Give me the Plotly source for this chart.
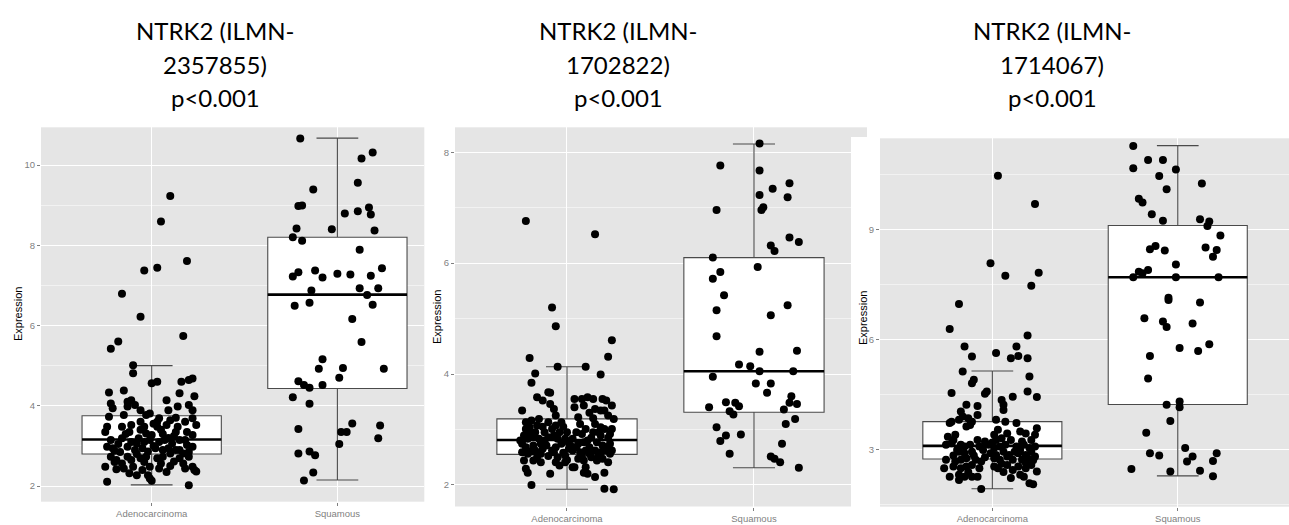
import plotly.graph_objects as go

W, H = 1289, 525
CATS = ["Adenocarcinoma", "Squamous"]
TITLES = [
    ["NTRK2 (ILMN-", "2357855)", "p<0.001"],
    ["NTRK2 (ILMN-", "1702822)", "p<0.001"],
    ["NTRK2 (ILMN-", "1714067)", "p<0.001"],
]

# ---------------- Panel 1 (ILMN-2357855) ----------------
P1_ADENO = [
    (0.10, 9.23), (0.05, 8.59), (0.19, 7.61), (0.03, 7.44), (-0.04, 7.37), (-0.16, 6.79), (-0.06, 6.22),
    (0.17, 5.74), (-0.18, 5.60), (-0.22, 5.42),
    (-0.10, 5.01), (-0.10, 4.81), (0.00, 4.56), (0.03, 4.60), (0.16, 4.60), (0.20, 4.64), (0.22, 4.68),
    (-0.23, 4.33), (-0.15, 4.38), (0.15, 4.31), (0.23, 4.24), (0.08, 4.14),
    (-0.22, 4.06), (-0.21, 3.94), (-0.13, 4.10), (-0.11, 4.14), (-0.13, 3.98), (-0.09, 4.02), (-0.06, 3.89),
    (0.14, 3.98), (0.20, 4.02), (0.22, 3.89), (0.09, 3.89),
    (-0.01, 3.81), (-0.03, 3.77), (-0.23, 3.73), (-0.15, 3.77),
    (0.04, 3.69), (0.03, 3.60), (0.10, 3.64), (0.18, 3.60), (0.24, 3.52), (0.22, 3.69),
    (-0.24, 3.48), (-0.25, 3.35), (-0.16, 3.48), (-0.11, 3.52), (-0.12, 3.35), (-0.06, 3.40), (-0.04, 3.48), (-0.03, 3.31),
    (0.03, 3.48), (0.05, 3.40), (0.08, 3.52), (0.13, 3.35), (0.14, 3.48), (0.19, 3.35), (0.22, 3.27),
    (-0.22, 3.15), (-0.16, 3.19), (-0.11, 3.10), (-0.07, 3.19), (-0.04, 3.10), (-0.01, 3.15), (0.04, 3.10),
    (0.07, 3.15), (0.11, 3.06), (0.15, 3.15), (0.19, 3.02), (0.22, 2.98),
    (-0.24, 2.98), (-0.21, 2.94), (-0.13, 2.98), (-0.09, 2.90), (-0.05, 2.94), (-0.02, 2.86), (0.02, 2.94),
    (0.06, 2.90), (0.09, 2.94), (0.13, 2.90), (0.17, 2.81),
    (-0.22, 2.73), (-0.19, 2.65), (-0.13, 2.73), (-0.11, 2.65), (-0.06, 2.69), (-0.03, 2.73), (0.03, 2.69),
    (0.06, 2.73), (0.12, 2.61), (0.15, 2.69), (0.20, 2.73),
    (-0.25, 2.48), (-0.15, 2.44), (-0.10, 2.48), (-0.05, 2.40), (-0.01, 2.48), (0.04, 2.44), (0.18, 2.44),
    (0.22, 2.48), (0.23, 2.40),
    (-0.12, 2.32), (-0.08, 2.27), (-0.02, 2.27), (-0.01, 2.19), (-0.24, 2.11), (0.20, 2.02), (0.00, 2.13),
    (-0.19, 2.42), (0.17, 2.56), (0.24, 2.36), (-0.20, 2.88), (0.10, 2.81), (0.12, 3.25), (-0.08, 3.06),
    (0.00, 3.27), (0.05, 2.56), (-0.16, 2.56), (0.08, 2.35), (-0.04, 2.60),
    (-0.18, 3.05), (-0.08, 2.80), (0.01, 3.00), (0.09, 3.20), (0.15, 2.90), (-0.14, 3.30), (0.06, 3.30),
    (0.18, 3.15), (-0.20, 2.60), (0.10, 2.50), (-0.06, 3.60), (0.01, 3.55), (0.13, 3.70), (-0.17, 2.85),
    (0.20, 2.85),
]
P1_SQUAM = [
    (-0.20, 10.66), (0.19, 10.31), (0.13, 10.16), (0.11, 9.56), (-0.13, 9.39), (-0.21, 8.98), (-0.19, 8.99),
    (0.04, 8.79), (0.11, 8.85), (0.17, 8.94), (0.18, 8.77), (-0.22, 8.42), (-0.03, 8.40), (0.20, 8.37),
    (-0.24, 8.20), (-0.19, 8.11), (0.12, 7.89), (-0.21, 7.33), (-0.24, 7.22), (-0.12, 7.37), (-0.08, 7.20),
    (0.00, 7.29), (0.07, 7.27), (0.18, 7.24), (0.24, 7.43), (-0.14, 6.87), (0.12, 6.93), (0.22, 6.93),
    (0.16, 6.76), (-0.15, 6.57), (-0.23, 6.49), (0.19, 6.52), (0.08, 6.16), (0.13, 5.59), (-0.08, 5.16),
    (-0.10, 4.92), (0.03, 4.94), (0.25, 4.92), (0.01, 4.70), (-0.21, 4.61), (-0.18, 4.52), (-0.15, 4.45),
    (-0.08, 4.52), (-0.24, 4.21), (-0.15, 4.05), (0.08, 3.56), (0.23, 3.51), (0.02, 3.35), (0.05, 3.35),
    (-0.21, 3.42), (0.01, 3.05), (0.22, 3.19), (-0.21, 2.81), (-0.15, 2.86), (-0.12, 2.77), (-0.13, 2.34),
    (-0.18, 2.14),
]
# box stats: q1, median, q3, lower whisker, upper whisker
P1_BOX = {"Adenocarcinoma": (2.80, 3.16, 3.75, 2.03, 5.00), "Squamous": (4.43, 6.77, 8.20, 2.15, 10.67)}

# ---------------- Panel 2 (ILMN-1702822) ----------------
P2_ADENO = [
    (-0.22, 6.76), (0.15, 6.52), (-0.08, 5.20), (-0.06, 4.86), (0.24, 4.61), (-0.20, 4.29), (0.22, 4.31),
    (-0.05, 4.13), (0.10, 4.13), (-0.17, 4.01), (0.18, 3.99), (-0.19, 3.84), (-0.09, 3.66),
    (-0.24, 3.34), (-0.16, 3.58), (-0.13, 3.52), (-0.10, 3.67), (-0.09, 3.46), (-0.07, 3.37), (-0.06, 3.25),
    (-0.22, 3.13), (-0.19, 3.16), (-0.15, 3.19), (-0.22, 3.01), (-0.20, 3.04), (-0.16, 3.07),
    (-0.10, 3.13), (-0.08, 3.01), (-0.06, 3.07), (-0.03, 3.13),
    (-0.23, 2.89), (-0.21, 2.83), (-0.18, 2.89), (-0.15, 2.83), (-0.24, 2.74), (-0.22, 2.68), (-0.18, 2.71), (-0.14, 2.74),
    (-0.10, 2.86), (-0.07, 2.89), (-0.05, 2.83), (-0.01, 2.83),
    (-0.11, 2.71), (-0.06, 2.68), (-0.03, 2.74),
    (-0.24, 2.59), (-0.21, 2.56), (-0.17, 2.62), (-0.14, 2.56),
    (-0.07, 2.59), (-0.05, 2.50), (-0.01, 2.53), (0.01, 2.65),
    (-0.23, 2.44), (-0.18, 2.44), (-0.14, 2.41),
    (-0.06, 2.41), (-0.04, 2.35), (-0.01, 2.41),
    (-0.22, 2.29), (-0.21, 2.22), (-0.09, 2.20), (0.03, 2.32), (-0.19, 2.00),
    (0.04, 3.55), (0.08, 3.55), (0.11, 3.58), (0.14, 3.55), (0.19, 3.55), (0.21, 3.52),
    (0.04, 3.40), (0.09, 3.43),
    (0.15, 3.37), (0.18, 3.34), (0.20, 3.34), (0.24, 3.43),
    (0.06, 3.22), (0.22, 3.25), (0.25, 3.19),
    (0.15, 3.10), (0.18, 3.04), (0.20, 3.01),
    (0.10, 3.01), (0.08, 2.92), (0.24, 3.01),
    (0.14, 2.95), (0.18, 2.89), (0.23, 2.92),
    (0.03, 2.83), (0.06, 2.74), (0.09, 2.77), (0.11, 2.80),
    (0.16, 2.77), (0.19, 2.71), (0.23, 2.74),
    (0.03, 2.62), (0.07, 2.59), (0.10, 2.62), (0.12, 2.56), (0.15, 2.62), (0.18, 2.59), (0.20, 2.62), (0.23, 2.56),
    (0.06, 2.47), (0.09, 2.44), (0.13, 2.50), (0.16, 2.44), (0.19, 2.47), (0.22, 2.41),
    (0.04, 2.32), (0.10, 2.32),
    (0.09, 2.22), (0.11, 2.20), (0.15, 2.14), (0.20, 2.22),
    (0.20, 1.93), (0.25, 1.92),
    (0.00, 2.95), (-0.02, 3.05), (0.02, 2.70), (-0.12, 2.95), (-0.13, 2.65), (0.05, 2.95), (0.13, 2.85),
    (-0.17, 2.95), (0.00, 2.45),
    (-0.20, 2.95), (-0.12, 2.80), (-0.08, 2.62), (-0.02, 2.58), (0.05, 2.68), (0.08, 2.52), (0.12, 2.68),
    (0.17, 2.52), (0.21, 2.68), (0.24, 2.62), (-0.25, 2.80), (-0.16, 2.50), (-0.10, 2.52), (0.01, 2.75),
    (0.14, 3.20), (0.12, 3.30), (-0.13, 3.05), (0.07, 3.10), (-0.04, 2.95), (0.22, 2.85), (0.17, 2.95),
    (-0.19, 2.60),
]
P2_SQUAM = [
    (0.03, 8.16), (-0.18, 7.76), (0.03, 7.67), (0.19, 7.44), (0.10, 7.34), (0.03, 7.23), (0.18, 7.19),
    (0.05, 7.01), (0.04, 6.96), (-0.20, 6.96), (0.19, 6.46), (0.24, 6.38), (0.09, 6.32), (0.11, 6.22),
    (-0.22, 6.10), (0.02, 5.93), (-0.18, 5.84), (-0.22, 5.72), (-0.16, 5.42), (0.18, 5.24), (-0.20, 5.15),
    (0.09, 5.06), (-0.20, 4.68), (0.03, 4.40), (0.23, 4.42), (-0.08, 4.17), (-0.02, 4.14), (0.03, 4.05),
    (0.21, 4.05), (-0.22, 3.95), (0.01, 3.83), (0.09, 3.83), (0.07, 3.66), (0.20, 3.60), (-0.15, 3.49),
    (-0.10, 3.48), (-0.08, 3.42), (0.19, 3.48), (0.23, 3.46), (-0.24, 3.40), (-0.13, 3.33), (-0.11, 3.27),
    (0.16, 3.36), (0.22, 3.19), (0.17, 3.10), (-0.20, 3.04), (-0.15, 2.89), (-0.07, 2.91), (-0.18, 2.79),
    (0.15, 2.74), (-0.13, 2.56), (0.09, 2.51), (0.11, 2.47), (0.14, 2.41), (0.24, 2.31),
]
P2_BOX = {"Adenocarcinoma": (2.55, 2.81, 3.19, 1.92, 4.13), "Squamous": (3.31, 4.05, 6.10, 2.31, 8.15)}

# ---------------- Panel 3 (ILMN-1714067) ----------------
P3_ADENO = [
    (0.03, 10.48), (0.23, 9.71), (-0.01, 8.09), (0.07, 7.75), (0.25, 7.83), (0.21, 7.48), (-0.18, 6.98),
    (-0.23, 6.30), (0.19, 6.12), (-0.15, 5.82), (0.13, 5.82), (0.02, 5.64), (-0.11, 5.55), (0.10, 5.50),
    (0.14, 5.56), (0.19, 5.50), (-0.16, 5.14), (0.20, 5.00), (-0.10, 4.91), (-0.11, 4.82),
    (-0.22, 4.55), (-0.03, 4.59), (-0.04, 4.53), (0.11, 4.45), (0.19, 4.59), (0.24, 4.44),
    (-0.14, 4.23), (-0.08, 4.20), (0.05, 4.36), (0.06, 4.23), (0.06, 4.09),
    (-0.17, 4.05), (-0.16, 3.91), (-0.18, 3.82), (-0.13, 3.86), (-0.11, 3.77), (-0.08, 3.95),
    (-0.23, 3.73), (-0.22, 3.77), (-0.14, 3.64), (-0.12, 3.68),
    (0.02, 3.82), (0.07, 3.77), (0.13, 3.73),
    (0.03, 3.55), (0.08, 3.45),
    (0.15, 3.50), (0.18, 3.45), (0.23, 3.41), (0.24, 3.59),
    (-0.24, 3.36), (-0.21, 3.27), (-0.20, 3.41),
    (-0.08, 3.27), (-0.04, 3.23),
    (0.01, 3.41), (0.02, 3.27), (0.05, 3.32),
    (0.10, 3.27), (0.16, 3.23), (0.21, 3.27),
    (-0.25, 3.14), (-0.22, 3.18), (-0.17, 3.14), (-0.15, 3.09), (-0.12, 3.14),
    (-0.07, 3.09), (-0.02, 3.14), (0.01, 3.05), (0.04, 3.09), (0.07, 3.14),
    (0.13, 3.09), (0.17, 3.14), (0.20, 3.05), (0.23, 3.09),
    (-0.18, 2.95), (-0.15, 2.91), (-0.11, 2.95),
    (-0.01, 2.91), (0.02, 2.86), (0.06, 2.95), (0.09, 2.86),
    (0.14, 2.91), (0.18, 2.86), (0.21, 2.95),
    (-0.25, 2.73), (-0.20, 2.68), (-0.17, 2.73), (-0.14, 2.77),
    (-0.09, 2.73), (-0.06, 2.68),
    (0.01, 2.77), (0.04, 2.73), (0.08, 2.82), (0.11, 2.73),
    (0.16, 2.73), (0.19, 2.77), (0.23, 2.82),
    (-0.26, 2.50), (-0.21, 2.55), (-0.17, 2.50), (-0.14, 2.55), (-0.11, 2.59),
    (0.01, 2.55), (0.03, 2.50), (0.08, 2.59),
    (0.14, 2.55), (0.18, 2.50), (0.21, 2.59),
    (-0.23, 2.27), (-0.18, 2.32), (-0.15, 2.27), (-0.11, 2.27), (-0.08, 2.27),
    (0.10, 2.23), (0.15, 2.32), (0.17, 2.27), (-0.18, 2.18), (0.24, 2.41), (0.20, 2.09), (0.22, 2.06),
    (-0.06, 1.93),
    (-0.19, 3.00), (-0.10, 2.85), (-0.04, 2.80), (0.05, 2.62), (0.12, 2.95), (0.18, 2.65), (-0.21, 2.85),
    (-0.07, 2.50), (0.06, 2.40), (0.11, 2.45), (-0.13, 2.40), (0.22, 2.72), (0.00, 3.20), (-0.05, 3.00),
    (0.15, 3.00),
]
P3_SQUAM = [
    (-0.24, 11.29), (-0.24, 10.68), (-0.16, 10.91), (-0.08, 10.91), (-0.01, 10.65), (-0.10, 10.47),
    (0.13, 10.27), (-0.06, 10.11), (-0.21, 9.85), (-0.19, 9.75), (-0.14, 9.43), (-0.08, 9.25), (0.12, 9.29),
    (0.17, 9.23), (0.16, 9.11), (0.23, 8.85), (-0.12, 8.56), (-0.15, 8.47), (-0.07, 8.44), (0.15, 8.52),
    (0.21, 8.45), (0.19, 8.27), (-0.01, 8.06), (-0.16, 7.91), (-0.21, 7.86), (-0.19, 7.82), (-0.24, 7.71),
    (-0.01, 7.71), (0.22, 7.71), (-0.05, 7.15), (-0.05, 7.09), (0.12, 7.02), (-0.18, 6.59), (-0.08, 6.50),
    (-0.06, 6.35), (0.08, 6.45), (0.17, 5.88), (0.01, 5.78), (0.11, 5.70), (-0.15, 5.56), (-0.16, 4.95),
    (-0.06, 4.23), (0.01, 4.32), (0.01, 4.16), (-0.04, 3.79), (-0.17, 3.47), (0.04, 3.05), (-0.15, 2.91),
    (-0.10, 2.85), (0.08, 2.82), (0.05, 2.68), (0.21, 2.91), (0.19, 2.70), (-0.25, 2.48), (-0.04, 2.41),
    (0.12, 2.43), (0.19, 2.28),
]
P3_BOX = {"Adenocarcinoma": (2.75, 3.11, 3.77, 1.94, 5.15), "Squamous": (4.24, 7.71, 9.12, 2.29, 11.30)}

# ---------------- layout geometry (pixels of the 1289x525 canvas) ----------------
PANELS = [
    dict(data=(P1_ADENO, P1_SQUAM), box=P1_BOX, px=(41, 424.3), py=(127.3, 501.7),
         xr=(0.404, 2.468), yr=(1.61, 10.94), dtick=2, minor=1, title_x=215, ylab_x=18, ylab_y=314),
    dict(data=(P2_ADENO, P2_SQUAM), box=P2_BOX, px=(455, 851), py=(127.3, 506.5),
         xr=(0.401, 2.519), yr=(1.61, 8.45), dtick=2, minor=1, title_x=618, ylab_x=437, ylab_y=317),
    dict(data=(P3_ADENO, P3_SQUAM), box=P3_BOX, px=(880, 1289), py=(138.3, 506.7),
         xr=(0.394, 2.60), yr=(1.45, 11.5), dtick=3, minor=1.5, title_x=1052, ylab_x=863, ylab_y=318),
]

BG = "#E5E5E5"
BOXW = 0.75
TICKFONT = dict(family="Liberation Sans, Arial", size=9.5, color="#7f7f7f")
fig = go.Figure()
annotations = []
layout_axes = {}

for i, p in enumerate(PANELS, start=1):
    sx = "" if i == 1 else str(i)
    xa, ya = "x" + sx, "y" + sx
    # boxes
    for ci, cat in enumerate(CATS, start=1):
        q1, med, q3, lo, hi = p["box"][cat]
        fig.add_trace(go.Box(
            x=[ci], q1=[q1], median=[med], q3=[q3], lowerfence=[lo], upperfence=[hi],
            width=BOXW, whiskerwidth=0.3, fillcolor="white",
            line=dict(color="#4a4a4a", width=1.1), boxpoints=False,
            xaxis=xa, yaxis=ya, showlegend=False, hoverinfo="skip"))
        fig.add_trace(go.Scatter(
            x=[ci - BOXW / 2, ci + BOXW / 2], y=[med, med], mode="lines",
            line=dict(color="black", width=2.6), xaxis=xa, yaxis=ya,
            showlegend=False, hoverinfo="skip"))
    # jittered points
    for ci, pts in enumerate(p["data"], start=1):
        fig.add_trace(go.Scatter(
            x=[ci + d for d, _ in pts], y=[v for _, v in pts], mode="markers",
            marker=dict(color="black", size=8, line=dict(width=0)),
            xaxis=xa, yaxis=ya, showlegend=False, hoverinfo="skip"))

    x0, x1 = p["px"]
    y0, y1 = p["py"]
    layout_axes["xaxis" + sx] = dict(
        domain=[x0 / W, x1 / W], range=list(p["xr"]), anchor=ya, automargin=False,
        tickvals=[1, 2], ticktext=CATS, ticks="outside", ticklen=3, tickcolor="#7f7f7f",
        tickfont=TICKFONT,
        showgrid=True, gridcolor="white", gridwidth=1.4, zeroline=False, showline=False, fixedrange=True)
    layout_axes["yaxis" + sx] = dict(
        domain=[1 - y1 / H, 1 - y0 / H], range=list(p["yr"]), anchor=xa, automargin=False,
        tick0=0, dtick=p["dtick"], ticks="outside", ticklen=3, tickcolor="#7f7f7f",
        tickfont=TICKFONT,
        showgrid=True, gridcolor="white", gridwidth=1.4, zeroline=False, showline=False,
        minor=dict(dtick=p["minor"], tick0=0, showgrid=True, gridcolor="#F2F2F2", gridwidth=0.7, ticks=""),
        fixedrange=True)
    # y-axis title
    annotations.append(dict(
        text="Expression", x=p["ylab_x"] / W, y=1 - p["ylab_y"] / H, xref="paper", yref="paper",
        showarrow=False, textangle=-90, xanchor="center", yanchor="middle",
        font=dict(family="Liberation Sans, Arial", size=11, color="black")))
    # panel title lines
    for li, line in enumerate(TITLES[i - 1]):
        annotations.append(dict(
            text=line, x=p["title_x"] / W, y=1 - (30 + 34 * li) / H, xref="paper", yref="paper",
            showarrow=False, xanchor="center", yanchor="middle",
            font=dict(family="Lato, Open Sans, sans-serif", size=24, color="black")))

shapes = [
    # grey strip of panel 2 visible above panel 3's (cropped) figure
    dict(type="rect", xref="paper", yref="paper", x0=851 / W, x1=867 / W,
         y0=1 - 137 / H, y1=1 - 127.3 / H, fillcolor=BG, line=dict(width=0), layer="below"),
]

fig.update_layout(
    width=W, height=H, margin=dict(l=0, r=0, t=0, b=0, autoexpand=False),
    paper_bgcolor="white", plot_bgcolor=BG, boxmode="overlay",
    annotations=annotations, shapes=shapes, showlegend=False, **layout_axes)

fig.write_html(
    "out.html", config={"displayModeBar": False},
    post_script="document.body.style.margin='0px';document.body.style.overflow='hidden';")
